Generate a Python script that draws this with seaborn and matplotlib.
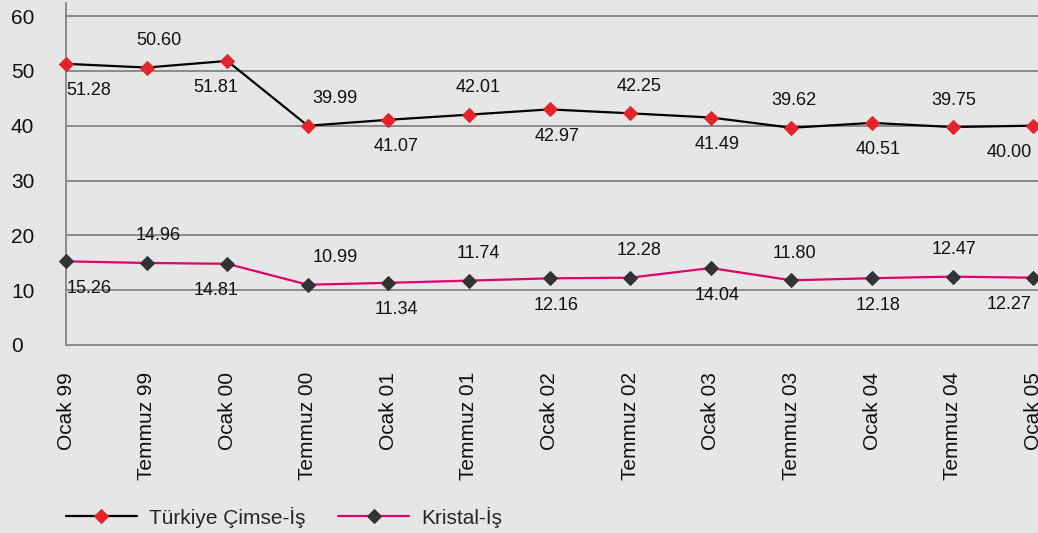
import numpy as np
import pandas as pd
import matplotlib
matplotlib.use("Agg")
import matplotlib.pyplot as plt
import seaborn as sns

# Period labels (half-year steps)
periods = ["Ocak 99", "Temmuz 99", "Ocak 00", "Temmuz 00", "Ocak 01", "Temmuz 01",
           "Ocak 02", "Temmuz 02", "Ocak 03", "Temmuz 03", "Ocak 04", "Temmuz 04",
           "Ocak 05"]

cimse_is = [51.28, 50.60, 51.81, 39.99, 41.07, 42.01, 42.97, 42.25, 41.49,
            39.62, 40.51, 39.75, 40.00]
kristal_is = [15.26, 14.96, 14.81, 10.99, 11.34, 11.74, 12.16, 12.28, 14.04,
              11.80, 12.18, 12.47, 12.27]

series_names = ["Türkiye Çimse-İş", "Kristal-İş"]
y_ticks = [0, 10, 20, 30, 40, 50, 60]

BG = "#e6e6e6"
GRID = "#8c8c8c"

sns.set_style("white", {"axes.facecolor": BG, "figure.facecolor": BG})
plt.rcParams["font.family"] = ["Liberation Sans", "DejaVu Sans"]

DPI = 100
W, H = 1038, 533
fig = plt.figure(figsize=(W / DPI, H / DPI), dpi=DPI)
fig.patch.set_facecolor(BG)

# axes geometry in pixels
ax_left, ax_bottom_px, ax_top_px = 66, 345, 3
ax = fig.add_axes([ax_left / W, (H - ax_bottom_px) / H, 1 - ax_left / W,
                   (ax_bottom_px - ax_top_px) / H])
ax.set_facecolor(BG)

x = np.arange(len(periods))
df = pd.DataFrame({"x": x, "cimse": cimse_is, "kristal": kristal_is})

sns.lineplot(data=df, x="x", y="cimse", ax=ax, color="black", linewidth=1.6,
             marker="D", markersize=7, markerfacecolor="#e3242b",
             markeredgecolor="#e3242b", label=series_names[0], zorder=4,
             clip_on=False)
sns.lineplot(data=df, x="x", y="kristal", ax=ax, color="#e0006d", linewidth=1.6,
             marker="D", markersize=7, markerfacecolor="#333333",
             markeredgecolor="#333333", label=series_names[1], zorder=4,
             clip_on=False)

# axis ranges: one category spacing ~80.6 px
spacing = 80.6
ax.set_xlim(0, (W - ax_left) / spacing)
ax.set_ylim(0, 60 + 13 / 5.48)

ax.set_yticks(y_ticks)
ax.set_yticklabels([str(t) for t in y_ticks], ha="left")
ax.set_xticks(x)
ax.set_xticklabels(periods, rotation=90)
ax.set_xlabel("")
ax.set_ylabel("")

px = 72 / DPI
ax.tick_params(axis="y", length=18 * px, width=2 * px, color=GRID,
               labelsize=15, pad=37 * px, labelcolor="#111111")
ax.tick_params(axis="x", length=18 * px, width=2 * px, color=GRID,
               labelsize=15, pad=9 * px, labelcolor="#111111")

for s in ["top", "right"]:
    ax.spines[s].set_visible(False)
for s in ["left", "bottom"]:
    ax.spines[s].set_color(GRID)
    ax.spines[s].set_linewidth(2 * px)

ax.yaxis.grid(True, color=GRID, linewidth=2 * px)
ax.xaxis.grid(False)
ax.set_axisbelow(True)

# value labels: alternate below / above the markers
dx_px = [23, 12, -11, 27, 8, 9, 7, 9, 6, 3, 6, 1, -24]
for values in (cimse_is, kristal_is):
    for i, v in enumerate(values):
        dy = -27 if i % 2 == 0 else 27
        ax.annotate(f"{v:.2f}", (i, v), xytext=(dx_px[i] * px, dy * px),
                    textcoords="offset points", ha="center", va="center",
                    fontsize=13, color="#111111", annotation_clip=False)

ax.get_legend().remove()
handles, labels = ax.get_legend_handles_labels()
fig.legend(handles, labels, loc="center left",
           bbox_to_anchor=(ax_left / W, (H - 517) / H), ncol=2, frameon=False,
           fontsize=15, handlelength=3.4, handletextpad=0.6, columnspacing=1.55,
           borderpad=0, borderaxespad=0)

fig.savefig("out.png", dpi=DPI, facecolor=BG)
